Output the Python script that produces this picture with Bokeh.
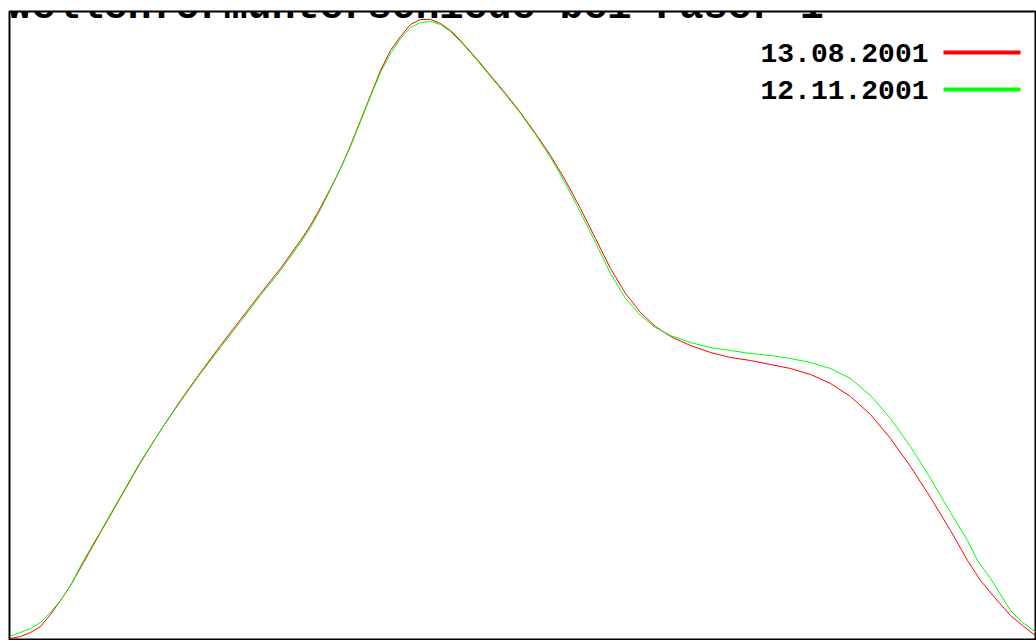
from bokeh.plotting import figure
from bokeh.models import Range1d, Label
from bokeh.embed import file_html
from bokeh.resources import INLINE

# ---- data (sample position, amplitude) ----
title_text = "Wellenformunterschiede bei Faser 1"
series_names = ["13.08.2001", "12.11.2001"]
series_colors = ["#ff0000", "#00ff00"]

red_x = [0, 11, 21, 31, 41, 51, 61, 74, 91, 111, 131, 151, 171, 191, 211, 231, 251, 271, 291, 301,
         311, 321, 331, 341, 351, 361, 371, 381, 391, 401, 411, 421, 431, 441, 451, 466, 481, 496,
         511, 526, 541, 556, 571, 586, 601, 616, 631, 646, 661, 681, 701, 721, 741, 761, 781, 801,
         821, 841, 861, 881, 901, 921, 941, 958, 971, 986, 1001, 1013, 1027]
red_y = [2, 4, 8, 14, 26, 40, 55, 78, 108, 143, 178, 210, 240, 268, 295, 321, 347, 372, 400, 415,
         433, 452, 472, 495, 520, 545, 570, 590, 604, 616, 621, 621, 617, 610, 600, 583, 565, 547,
         528, 507, 485, 460, 432, 402, 372, 347, 328, 314, 304, 295, 288, 283, 280, 276, 272, 266,
         257, 244, 226, 202, 174, 143, 110, 80, 60, 42, 25, 15, 4]

green_x = [0, 11, 21, 31, 41, 51, 61, 74, 91, 111, 131, 151, 171, 191, 211, 231, 251, 271, 291, 301,
           311, 321, 331, 341, 351, 361, 371, 381, 391, 401, 411, 421, 431, 441, 451, 466, 481, 496,
           511, 526, 541, 556, 571, 586, 601, 616, 631, 646, 661, 681, 701, 721, 741, 761, 781, 801,
           821, 841, 861, 881, 901, 921, 941, 958, 968, 981, 1001, 1013, 1027]
green_y = [4, 8, 12, 18, 28, 40, 55, 80, 109, 144, 179, 210, 239, 267, 293, 319, 345, 370, 398, 413,
           431, 451, 472, 494, 519, 544, 568, 587, 602, 613, 618, 619, 616, 609, 599, 582, 564, 546,
           527, 506, 483, 457, 428, 398, 367, 342, 325, 313, 305, 298, 293, 290, 287, 285, 282, 278,
           272, 262, 245, 222, 194, 162, 128, 100, 80, 62, 30, 18, 8]

p = figure(width=1036, height=640, output_backend="svg", toolbar_location=None,
           x_range=Range1d(0, 1027), y_range=Range1d(0, 629),
           min_border_left=9, min_border_top=11, min_border_right=0, min_border_bottom=0)
p.axis.visible = False
p.grid.visible = False
p.outline_line_color = "black"
p.outline_line_width = 2
p.background_fill_color = "white"
p.border_fill_color = "white"

p.line(red_x, red_y, line_color=series_colors[0], line_width=1)
p.line(green_x, green_y, line_color=series_colors[1], line_width=1)

# title (mostly above the visible area, as in the reference)
p.add_layout(Label(x=-2, y=633, text=title_text, text_font="Liberation Mono",
                   text_font_style="bold", text_font_size="40px", text_color="black",
                   text_baseline="alphabetic", text_align="left"))

# legend: label right-aligned, sample line on the right
legend_rows_y = [579, 542]   # amplitude units of each row's baseline
for name, col, yb in zip(series_names, series_colors, legend_rows_y):
    p.add_layout(Label(x=919, y=yb + 9, text=name, text_font="Liberation Mono",
                       text_font_style="bold", text_font_size="28px", text_color="black",
                       text_baseline="alphabetic", text_align="right"))
    p.segment(x0=[934], y0=[yb + 9], x1=[1011], y1=[yb + 9], line_color=col, line_width=4)

open("out.html", "w").write(file_html(p, INLINE))
